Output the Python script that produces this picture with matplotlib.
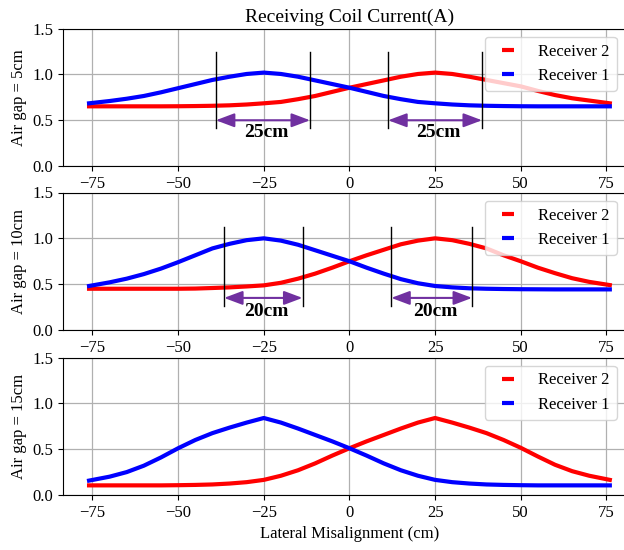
import matplotlib
matplotlib.use('Agg')
import matplotlib.pyplot as plt
from matplotlib.lines import Line2D

plt.rcParams['font.family'] = ['Liberation Serif', 'DejaVu Serif']
plt.rcParams['font.size'] = 12

# lateral misalignment (cm)
x = [-76, -70, -65, -60, -55, -50, -45, -40, -35, -30, -25, -20, -15, -10, -5,
     0, 5, 10, 15, 20, 25, 30, 35, 40, 45, 50, 55, 60, 65, 70, 76]

# receiving coil current (A), air gap = 5cm
rx1_5 = [0.685, 0.71, 0.735, 0.765, 0.805, 0.85, 0.895, 0.94, 0.975, 1.005, 1.02,
         1.005, 0.975, 0.935, 0.895, 0.855, 0.81, 0.765, 0.73, 0.70, 0.685, 0.672,
         0.663, 0.658, 0.655, 0.653, 0.652, 0.652, 0.652, 0.652, 0.652]
rx2_5 = [0.652, 0.652, 0.652, 0.652, 0.652, 0.653, 0.655, 0.658, 0.663, 0.672, 0.685,
         0.70, 0.73, 0.765, 0.81, 0.855, 0.895, 0.935, 0.975, 1.005, 1.02, 1.005,
         0.975, 0.94, 0.905, 0.87, 0.82, 0.775, 0.74, 0.715, 0.685]

# air gap = 10cm
rx1_10 = [0.48, 0.52, 0.56, 0.61, 0.67, 0.74, 0.815, 0.89, 0.94, 0.98, 1.0,
          0.975, 0.93, 0.87, 0.81, 0.75, 0.68, 0.615, 0.555, 0.51, 0.48, 0.465,
          0.455, 0.45, 0.447, 0.445, 0.444, 0.443, 0.443, 0.443, 0.443]
rx2_10 = [0.45, 0.45, 0.45, 0.45, 0.45, 0.45, 0.452, 0.458, 0.465, 0.475, 0.487,
          0.515, 0.56, 0.615, 0.68, 0.75, 0.815, 0.875, 0.935, 0.975, 1.0, 0.98,
          0.94, 0.89, 0.815, 0.75, 0.68, 0.62, 0.565, 0.525, 0.49]

# air gap = 15cm
rx1_15 = [0.157, 0.20, 0.25, 0.32, 0.41, 0.51, 0.60, 0.675, 0.735, 0.79, 0.84,
          0.79, 0.725, 0.655, 0.585, 0.51, 0.43, 0.345, 0.27, 0.21, 0.165, 0.14,
          0.125, 0.115, 0.11, 0.107, 0.105, 0.105, 0.105, 0.105, 0.105]
rx2_15 = [0.105, 0.105, 0.105, 0.105, 0.105, 0.107, 0.11, 0.115, 0.125, 0.14, 0.165,
          0.21, 0.27, 0.345, 0.43, 0.51, 0.585, 0.655, 0.725, 0.79, 0.84, 0.79,
          0.735, 0.675, 0.60, 0.515, 0.42, 0.33, 0.26, 0.21, 0.165]

gap_labels = ['Air gap = 5cm', 'Air gap = 10cm', 'Air gap = 15cm']
rx1_all = [rx1_5, rx1_10, rx1_15]
rx2_all = [rx2_5, rx2_10, rx2_15]

# annotation marks: (left line, right line, arrow y, line bottom, line top, text y, label)
marks = [
    [(-39.0, -11.5), (11.3, 38.7), 0.5, 0.415, 1.25, 0.37, '25cm'],
    [(-36.6, -13.7), (12.2, 35.8), 0.35, 0.265, 1.12, 0.2, '20cm'],
]

purple = '#7030a0'
fig = plt.figure(figsize=(6.24, 5.5), dpi=100)
bottoms = [0.698, 0.4, 0.1]
axes = []
for i in range(3):
    ax = fig.add_axes([0.101, bottoms[i], 0.918, 0.250])
    ax.plot(x, rx2_all[i], color='#ff0000', lw=3, label='Receiver 2')
    ax.plot(x, rx1_all[i], color='#0000ff', lw=3, label='Receiver 1')
    ax.set_xlim(-83.6, 83.6)
    ax.set_ylim(0, 1.5)
    ax.set_xticks([-75, -50, -25, 0, 25, 50, 75])
    ax.set_yticks([0, 0.5, 1.0, 1.5])
    ax.grid(True, color='#b0b0b0', lw=0.9)
    ax.set_axisbelow(True)
    ax.set_ylabel(gap_labels[i])
    ax.tick_params(labelsize=12)
    handles = [Line2D([], [], color='#ff0000', marker='_', ls='None', ms=9, mew=3),
               Line2D([], [], color='#0000ff', marker='_', ls='None', ms=9, mew=3)]
    ax.legend(handles, ['Receiver 2', 'Receiver 1'], loc='upper right',
              bbox_to_anchor=(0.981, 1.0), fontsize=12, numpoints=1)
    axes.append(ax)

for i, m in enumerate(marks):
    ax = axes[i]
    for pair in (m[0], m[1]):
        for xv in pair:
            ax.plot([xv, xv], [m[3], m[4]], color='black', lw=1)
        ax.annotate('', xy=(pair[1], m[2]), xytext=(pair[0], m[2]),
                    arrowprops=dict(arrowstyle='<|-|>,head_length=0.8,head_width=0.3',
                                    color=purple, lw=1.5, mutation_scale=14,
                                    shrinkA=0, shrinkB=0))
        ax.text((pair[0] + pair[1]) / 2 + 1, m[5], m[6], ha='center', va='center',
                fontsize=14, fontweight='bold')

axes[0].set_title('Receiving Coil Current(A)', fontsize=14, pad=5)
axes[2].set_xlabel('Lateral Misalignment (cm)')
fig.savefig('out.png', dpi=100)
